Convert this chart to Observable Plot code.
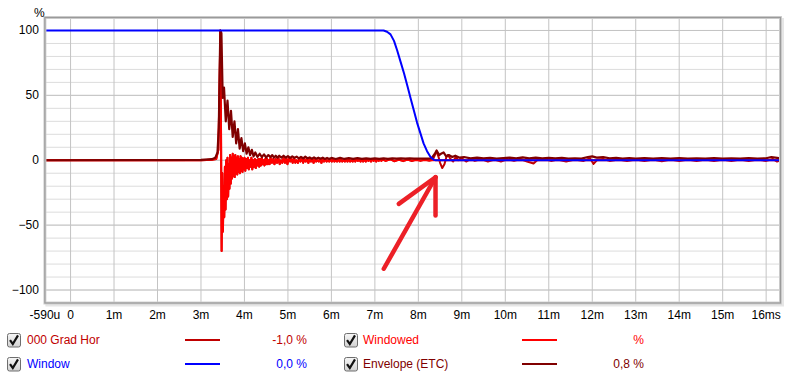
<!DOCTYPE html>
<html>
<head>
<meta charset="utf-8">
<script src="https://cdn.jsdelivr.net/npm/d3@7"></script>
<script src="https://cdn.jsdelivr.net/npm/@observablehq/plot@0.6"></script>
<style>
  html, body { margin: 0; padding: 0; background: #fff; }
  #wrap { position: relative; width: 800px; height: 378px; overflow: hidden; font-family: 'Liberation Sans', Arial, sans-serif; font-size: 12px; }
  #chart { position: absolute; left: 0; top: 0; }
  .lg { position: absolute; white-space: nowrap; line-height: 14px; }
  .cb { position: absolute; width: 14px; height: 15px; }
  .sw { position: absolute; height: 2px; }
  .val { position: absolute; text-align: right; width: 80px; line-height: 14px; }
</style>
</head>
<body>
<div id="wrap"><div id="chart"></div></div>
<script>
// ---------- data: [time in ms, value in %] ----------
// impulse response, identical for "000 Grad Hor" and "Windowed" up to 7.2 ms
const irEarly = [
  [-0.59, 0], [3.00, 0], [3.25, 0.3], [3.35, 1], [3.40, 8], [3.43, 60], [3.445, 100], [3.46, 30],
  [3.475, -70], [3.490, -10], [3.505, -55], [3.520, -20], [3.535, -44], [3.550, -5], [3.565, -38], [3.580, 0],
  [3.595, -30], [3.610, 2], [3.625, -28], [3.640, -3], [3.655, -22], [3.670, 4], [3.685, -18], [3.700, 2],
  [3.715, -14], [3.730, 5], [3.745, -12], [3.760, 3], [3.775, -13], [3.790, 4], [3.805, -10], [3.820, 2],
  [3.835, -11], [3.850, 3], [3.865, -9], [3.880, 1], [3.895, -10], [3.910, 3], [3.925, -8], [3.940, 2],
  [3.955, -9], [3.970, 1], [3.985, -7],
  [4.00, 2], [4.02, -8], [4.04, 1], [4.06, -6], [4.08, 2], [4.10, -7], [4.12, 0], [4.14, -5], [4.16, 2],
  [4.18, -7], [4.20, 0], [4.22, -5], [4.24, 1], [4.26, -6], [4.28, 0], [4.30, -4], [4.32, 1], [4.34, -5],
  [4.36, 1], [4.38, -4], [4.40, 2], [4.42, -3], [4.44, 0], [4.46, -4], [4.48, 1], [4.50, -3], [4.52, 1],
  [4.54, -3], [4.56, 0], [4.58, -3],
  [4.60, 2], [4.63, -2], [4.66, 1], [4.69, -3], [4.72, 1], [4.75, -2], [4.78, 2], [4.81, -3], [4.84, 0],
  [4.87, -2], [4.90, 2], [4.93, -2], [4.96, 1], [4.99, -3], [5.02, 2], [5.05, -1], [5.08, 1], [5.11, -2],
  [5.14, 2], [5.17, -2], [5.20, 0], [5.23, -2], [5.26, 1], [5.29, -1], [5.32, 2], [5.35, -2], [5.38, 1],
  [5.41, -1], [5.44, 1], [5.47, -2], [5.50, 1], [5.53, -1], [5.56, 1], [5.59, -2], [5.62, 1], [5.65, -1],
  [5.68, 0], [5.71, -1], [5.74, 1], [5.77, -2], [5.80, 1], [5.83, -1], [5.86, 1], [5.89, -1], [5.92, 0],
  [5.95, -1], [5.98, 1], [6.01, -1], [6.04, 1], [6.07, -1], [6.10, 0], [6.13, -1], [6.16, 1], [6.19, -1],
  [6.22, 1], [6.25, -1], [6.28, 0], [6.31, -1], [6.34, 1], [6.37, -1], [6.40, 1], [6.43, -1], [6.46, 0],
  [6.49, -1], [6.52, 1], [6.55, -1], [6.58, 1], [6.61, -0.5], [6.64, 0.5], [6.67, -1], [6.70, 1], [6.73, -1],
  [6.76, 0.5], [6.79, -1], [6.82, 1], [6.85, -0.5], [6.88, 0.5], [6.91, -1], [6.94, 1], [6.97, -0.5],
  [7.00, 0.5], [7.03, -1], [7.06, 0.5], [7.09, -0.5], [7.12, 1], [7.15, -0.5], [7.18, 0.5]
];

// "000 Grad Hor" after 7.2 ms (includes the reflection near 8.4 ms)
const rawLate = [
  [7.25, -0.5], [7.35, 0.8], [7.45, -0.8], [7.55, 0.5], [7.65, -0.7], [7.75, 0.6], [7.85, -0.6], [7.95, 0.5],
  [8.05, -0.5], [8.15, 0.5], [8.25, -0.4], [8.33, 0.3], [8.38, 4], [8.42, 7], [8.46, 3], [8.50, -2], [8.55, -6],
  [8.60, -3], [8.64, 2], [8.68, 4], [8.74, 1], [8.80, -1], [8.86, 2.5], [8.92, 0], [9.0, 1.5], [9.1, -1],
  [9.2, 1], [9.3, -0.5], [9.45, 1], [9.6, -1], [9.75, 0.5], [9.9, -1], [10.05, 1], [10.2, -0.5], [10.35, 1],
  [10.5, -1], [10.65, -2.5], [10.75, 0.5], [10.9, 1], [11.05, -0.5], [11.2, 0.5], [11.4, -1], [11.6, 0.5],
  [11.8, -0.5], [11.95, 1.5], [12.03, -2.8], [12.12, 0.5], [12.25, 1], [12.4, -0.5], [12.6, 0.5], [12.8, -0.5],
  [13.0, 0.5], [13.2, -0.5], [13.4, 0.5], [13.6, -0.8], [13.8, 0.5], [14.0, -0.5], [14.2, 0.5], [14.4, -0.5],
  [14.6, 0.5], [14.8, -0.5], [15.0, 0.5], [15.2, -0.5], [15.4, 0.5], [15.6, -0.5], [15.8, 0.5], [16.0, -0.5],
  [16.15, 1], [16.25, -1], [16.33, 0]
];

// "Windowed" after 7.2 ms
const windowedLate = [
  [7.25, -0.5], [7.35, 0.8], [7.45, -0.7], [7.55, 0.4], [7.65, -0.5], [7.75, 0.4], [7.85, -0.3], [7.95, 0.2],
  [8.05, -0.1], [8.15, 0.1], [8.30, 0], [16.33, 0]
];

// "Envelope (ETC)"
const envelope = [
  [-0.59, 0], [3.0, 0.3], [3.25, 0.8], [3.33, 2], [3.38, 6], [3.41, 25], [3.43, 70], [3.445, 100],
  [3.47, 98], [3.50, 48], [3.53, 56], [3.57, 30], [3.61, 46], [3.65, 24], [3.69, 38], [3.73, 18], [3.77, 30],
  [3.81, 13], [3.85, 24], [3.89, 9], [3.93, 17], [3.97, 7], [4.01, 13], [4.05, 5], [4.09, 10], [4.13, 4],
  [4.17, 8], [4.21, 3], [4.25, 6], [4.30, 2.5], [4.35, 5], [4.40, 2.5], [4.45, 4.5], [4.50, 2], [4.55, 4],
  [4.60, 2.5], [4.64, 4], [4.68, 2], [4.72, 3.5], [4.76, 2], [4.80, 3.5], [4.85, 2], [4.90, 3.5], [4.95, 2],
  [5.00, 3.2], [5.05, 1.8], [5.10, 3], [5.15, 1.8], [5.20, 2.8], [5.25, 1.5], [5.30, 2.6], [5.35, 1.5],
  [5.40, 2.8], [5.45, 1.5], [5.50, 2.2], [5.55, 1.2], [5.60, 2.2], [5.65, 1.2], [5.70, 2], [5.75, 1.2],
  [5.80, 2], [5.85, 1], [5.90, 1.8], [5.95, 1], [6.00, 1.8], [6.10, 1], [6.20, 1.8], [6.30, 1], [6.40, 1.6],
  [6.50, 1], [6.60, 1.6], [6.70, 1], [6.80, 1.5], [6.90, 1], [7.00, 1.5], [7.10, 1], [7.20, 1.5], [7.30, 1],
  [7.40, 1.5], [7.50, 1.2], [7.60, 1.5], [7.70, 1.2], [7.80, 1.4], [7.90, 1.2], [8.00, 1.3], [8.10, 1.2],
  [8.20, 1.3], [8.30, 1.5], [8.38, 5],
  [8.42, 7.5], [8.48, 4], [8.52, 5], [8.58, 6], [8.64, 3], [8.70, 4], [8.78, 2.5], [8.85, 3.5], [8.95, 2],
  [9.05, 2.5], [9.20, 1.5], [9.35, 2], [9.50, 1.5], [9.65, 1.8], [9.80, 1.2], [9.95, 1.6], [10.10, 2],
  [10.25, 1.5], [10.40, 2.2], [10.55, 1.5], [10.70, 2], [10.85, 1.5], [11.00, 1.8], [11.15, 1.4], [11.30, 1.8],
  [11.45, 1.2], [11.60, 1.5], [11.75, 1.3], [11.90, 2.5], [12.00, 3], [12.10, 2], [12.25, 2.5], [12.40, 1.5],
  [12.55, 1.8], [12.70, 1.3], [12.85, 1.6], [13.00, 1.3], [13.20, 1.6], [13.40, 1.2], [13.60, 1.7], [13.80, 1.3],
  [14.00, 1.6], [14.20, 1.2], [14.40, 1.5], [14.60, 1.3], [14.80, 1.6], [15.00, 1.2], [15.20, 1.5], [15.40, 1.3],
  [15.60, 1.6], [15.80, 1.3], [16.00, 1.5], [16.12, 2.5], [16.25, 1.8], [16.33, 1.4]
];

// "Window"
const windowCurve = [
  [-0.59, 100], [7.20, 100], [7.28, 99], [7.36, 97], [7.44, 92], [7.51, 85], [7.59, 76], [7.67, 67],
  [7.75, 57], [7.82, 48], [7.90, 38], [7.97, 29], [8.05, 20.5], [8.12, 13], [8.20, 7], [8.28, 2.5],
  [8.36, 0.3], [8.40, 0], [16.33, 0]
];

// hand-drawn arrow annotation (three strokes)
const arrowT = [7.205, 8.395, 7.55, 8.395, 8.395, 8.395];
const arrowV = [-83.6, -13.1, -33.6, -13.1, -42.6, -13.1];
const arrowSeg = ["shaft", "shaft", "left", "left", "right", "right"];

const xTickValues = [-0.59, 0, 1, 2, 3, 4, 5, 6, 7, 8, 9, 10, 11, 12, 13, 14, 15, 16];
const xTickLabels = ["-590u", "0", "1m", "2m", "3m", "4m", "5m", "6m", "7m", "8m", "9m", "10m", "11m", "12m", "13m", "14m", "15m", "16ms"];
const xGrid = [0, 1, 2, 3, 4, 5, 6, 7, 8, 9, 10, 11, 12, 13, 14, 15, 16];
const yMajor = [-100, -50, 0, 50, 100];
const yMinor = [-100, -90, -80, -70, -60, -50, -40, -30, -20, -10, 0, 10, 20, 30, 40, 50, 60, 70, 80, 90, 100];

const legendNames = ["000 Grad Hor", "Windowed", "Window", "Envelope (ETC)"];
const legendValues = ["-1,0 %", "%", "0,0 %", "0,8 %"];
const legendColors = ["#c00000", "#ff0000", "#0000ff", "#800000"];

// ---------- build tables ----------
const toObj = a => a.map(([t, v]) => ({t, v}));
const raw = toObj(irEarly.concat(rawLate));
const windowed = toObj(irEarly.concat(windowedLate));
const env = toObj(envelope);
const win = toObj(windowCurve);
const arrow = arrowT.map((t, i) => ({t, v: arrowV[i], s: arrowSeg[i]}));
const labelOf = new Map(xTickValues.map((d, i) => [d, xTickLabels[i]]));

const chart = Plot.plot({
  width: 800,
  height: 322,
  marginLeft: 44.4,
  marginRight: 20,
  marginTop: 17,
  marginBottom: 19.5,
  style: {fontFamily: "'Liberation Sans', Arial, sans-serif", fontSize: "12px", color: "#000", background: "transparent"},
  x: {domain: [-0.59, 16.33], ticks: xTickValues, tickFormat: d => labelOf.get(d), tickSize: 0, tickPadding: 7, label: null},
  y: {domain: [-110, 110], ticks: yMajor, tickSize: 0, tickPadding: 6, label: null},
  marks: [
    Plot.frame({stroke: "#e6e6e6", strokeWidth: 3, dx: 2, dy: 2}),
    Plot.frame({fill: "white"}),
    Plot.ruleY(yMinor, {stroke: "#dcdcdc", strokeWidth: 1}),
    Plot.ruleY(yMajor, {stroke: "#c4c4c4", strokeWidth: 1}),
    Plot.ruleX(xGrid, {stroke: "#c4c4c4", strokeWidth: 1}),
    Plot.line(raw, {x: "t", y: "v", stroke: legendColors[0], strokeWidth: 2, strokeLinejoin: "round"}),
    Plot.line(windowed, {x: "t", y: "v", stroke: legendColors[1], strokeWidth: 2, strokeLinejoin: "round"}),
    Plot.line(env, {x: "t", y: "v", stroke: legendColors[3], strokeWidth: 2.2, strokeLinejoin: "round"}),
    Plot.line(win, {x: "t", y: "v", stroke: legendColors[2], strokeWidth: 2, strokeLinejoin: "round"}),
    Plot.line(arrow, {x: "t", y: "v", z: "s", stroke: "#ec2027", strokeWidth: 4.5, strokeLinecap: "round", strokeLinejoin: "round"}),
    Plot.frame({stroke: "#d0d0d0", strokeWidth: 3}),
    Plot.frame({stroke: "#9a9a9a", strokeWidth: 1.2}),
    Plot.text(["%"], {frameAnchor: "top-left", dx: -11, dy: -9, fontSize: 12})
  ]
});
document.getElementById("chart").appendChild(chart);

// ---------- legend ----------
const wrap = document.getElementById("wrap");
const cbSvg = '<svg width="14" height="15" viewBox="0 0 14 15"><defs><linearGradient id="g" x1="0" y1="0" x2="0" y2="1"><stop offset="0" stop-color="#f6f6f6"/><stop offset="1" stop-color="#d2d2d2"/></linearGradient></defs><rect x="0.5" y="0.5" width="13" height="13.5" rx="2" fill="url(#g)" stroke="#6e6e6e"/><path d="M3 7.2 L5.8 11 L11 2.4" fill="none" stroke="#111" stroke-width="2.2"/></svg>';
const cols = [{cb: 7, name: 27, sw: 185, valEnd: 307}, {cb: 344, name: 363, sw: 522, valEnd: 644}];
const rows = [333, 357];
legendNames.forEach((name, i) => {
  const c = cols[i % 2], r = rows[Math.floor(i / 2)];
  const color = legendColors[i];
  const cb = document.createElement("div"); cb.className = "cb"; cb.style.left = c.cb + "px"; cb.style.top = r + "px"; cb.innerHTML = cbSvg; wrap.appendChild(cb);
  const n = document.createElement("div"); n.className = "lg"; n.textContent = name; n.style.left = c.name + "px"; n.style.top = r + "px"; n.style.color = color; wrap.appendChild(n);
  const sw = document.createElement("div"); sw.className = "sw"; sw.style.left = c.sw + "px"; sw.style.width = "35px"; sw.style.top = (r + 6) + "px"; sw.style.background = color; wrap.appendChild(sw);
  const v = document.createElement("div"); v.className = "val"; v.textContent = legendValues[i]; v.style.left = (c.valEnd - 80) + "px"; v.style.top = r + "px"; v.style.color = color; wrap.appendChild(v);
});
</script>
</body>
</html>
